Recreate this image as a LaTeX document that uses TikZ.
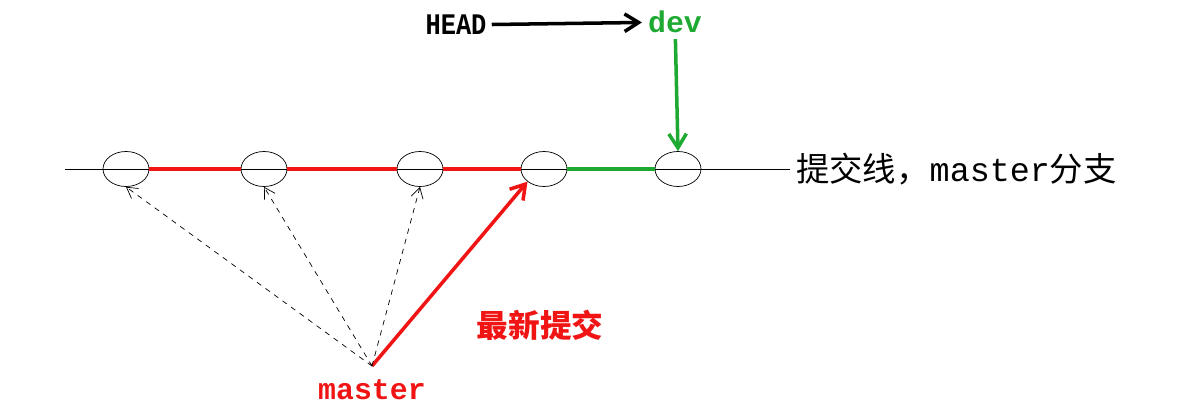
\documentclass[tikz,border=0pt]{standalone}
\usepackage{fontspec}
\setmonofont{Liberation Mono}
\newfontfamily\cjk{Noto Sans CJK SC}
\definecolor{gitred}{RGB}{240,20,20}
\definecolor{gitgreen}{RGB}{30,170,50}
\tikzset{
  commit/.style={draw,ellipse,minimum width=0.92cm,minimum height=0.7cm,inner sep=0pt},
  lbl/.style={font=\bfseries\ttfamily\fontsize{17}{20}\selectfont},
  ref/.style={-{Straight Barb[length=8pt,width=10pt]},line width=2pt},
}
\usetikzlibrary{shapes.geometric,arrows.meta}
\begin{document}
\begin{tikzpicture}[x=0.02cm,y=-0.02cm]
\useasboundingbox (0,0) rectangle (1200,419);

\coordinate (start) at (65,169);
\coordinate (end) at (790,169);
\draw (start) -- (end);

\foreach \x [count=\i] in {126,264,420,544,678}{
  \node[commit] (c\i) at (\x,169) {};
}
\draw[gitred,line width=2pt] (c1.east) -- (c2.west) (c2.east) -- (c3.west) (c3.east) -- (c4.west);
\draw[gitgreen,line width=2pt] (c4.east) -- (c5.west);

\node[anchor=west,font=\cjk\fontsize{19}{22}\selectfont] (line) at (end) {提交线，\texttt{master}分支};

\node[lbl,xscale=0.85] (head) at (456,25) {HEAD};
\node[lbl,text=gitgreen] (dev) at (675,22) {dev};
\draw[ref] (head) -- (dev);
\draw[ref,gitgreen] (dev) -- (c5.north);

\node[lbl,text=gitred] (master) at (372,390) {master};
\coordinate (m) at (372,366);
\draw[ref,gitred] (m) -- (c4.south west);
\foreach \t in {c1,c2,c3}{
  \draw[dashed,-{Straight Barb[length=6pt,width=7pt]}] (m) -- (\t.south);
}
\node[text=gitred,font=\cjk\bfseries\fontsize{18}{21}\selectfont] (newest) at (540,325) {最新提交};
\end{tikzpicture}
\end{document}
